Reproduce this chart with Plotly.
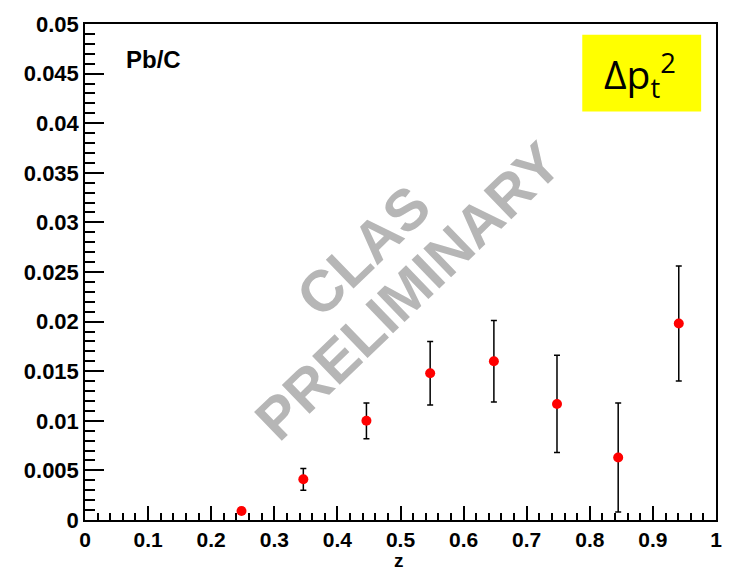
import plotly.graph_objects as go

# Pb/C broadening vs z
z_vals = [0.248, 0.346, 0.446, 0.547, 0.648, 0.748, 0.845, 0.941]
dpt2 = [0.0009, 0.0041, 0.0100, 0.0148, 0.0160, 0.0117, 0.0063, 0.0198]
dpt2_err = [0.0003, 0.0011, 0.0018, 0.0032, 0.0041, 0.0049, 0.0055, 0.0058]

y_tick_vals = [0, 0.005, 0.01, 0.015, 0.02, 0.025, 0.03, 0.035, 0.04, 0.045, 0.05]
y_tick_text = ["0", "0.005", "0.01", "0.015", "0.02", "0.025", "0.03", "0.035", "0.04", "0.045", "0.05"]
x_tick_vals = [0, 0.1, 0.2, 0.3, 0.4, 0.5, 0.6, 0.7, 0.8, 0.9, 1]
x_tick_text = ["0", "0.1", "0.2", "0.3", "0.4", "0.5", "0.6", "0.7", "0.8", "0.9", "1"]

W, H = 734, 571
L, R, T, B = 85, 12, 16, 51
PW, PH = W - L - R, H - T - B


def px(x):
    return (x - L) / PW


def py(y):
    return (H - B - y) / PH


def bold(size):
    return dict(family="Liberation Sans, Arial, sans-serif", size=size, color="black", weight="bold")


fig = go.Figure()
fig.add_trace(go.Scatter(
    x=z_vals, y=dpt2, mode="markers",
    marker=dict(color="red", size=10, symbol="circle"),
    error_y=dict(type="data", array=dpt2_err, visible=True, color="black", thickness=1.5, width=3),
    showlegend=False,
))

fig.update_layout(
    width=W, height=H,
    margin=dict(l=L, r=R, t=T, b=B, pad=0),
    paper_bgcolor="white", plot_bgcolor="white",
    xaxis=dict(
        range=[0, 1], showgrid=False, zeroline=False,
        showline=True, linecolor="black", linewidth=1.5, mirror=True,
        ticks="inside", ticklen=14, tickwidth=1.5, tickcolor="black",
        tickvals=x_tick_vals, ticktext=x_tick_text, tickfont=bold(21),
        minor=dict(dtick=0.02, tick0=0, ticks="inside", ticklen=7, tickwidth=1.5, tickcolor="black"),
    ),
    yaxis=dict(
        range=[0, 0.05], showgrid=False, zeroline=False,
        showline=True, linecolor="black", linewidth=1.5, mirror=True,
        ticks="inside", ticklen=19, tickwidth=1.5, tickcolor="black",
        tickvals=y_tick_vals, ticktext=y_tick_text, tickfont=bold(22),
        minor=dict(dtick=0.001, tick0=0, ticks="inside", ticklen=10, tickwidth=1.5, tickcolor="black"),
    ),
)

# yellow label box
fig.add_shape(type="rect", xref="paper", yref="paper",
              x0=px(587), x1=px(707), y0=py(105), y1=py(27),
              fillcolor="#ffff00", line=dict(width=0), layer="above")

gray = "rgb(182,182,182)"
wm_font = dict(family="Liberation Sans, Arial, sans-serif", size=58, color=gray, weight="bold")
annotations = [
    dict(text="CLAS", x=px(366), y=py(246), textangle=-44, font=wm_font),
    dict(text="PRELIMINARY", x=px(411), y=py(287), textangle=-44, font=wm_font),
    dict(text="Pb/C", x=px(154), y=py(52), font=bold(24)),
    dict(text="z", x=px(402), y=py(561), font=bold(19)),
    dict(text="Δp<sub>t</sub><sup>2</sup>", x=px(645), y=py(68),
         font=dict(family="Open Sans, Noto Sans, sans-serif", size=39, color="black")),
]
for a in annotations:
    fig.add_annotation(xref="paper", yref="paper", showarrow=False,
                       xanchor="center", yanchor="middle", **a)

fig.write_html("out.html")
